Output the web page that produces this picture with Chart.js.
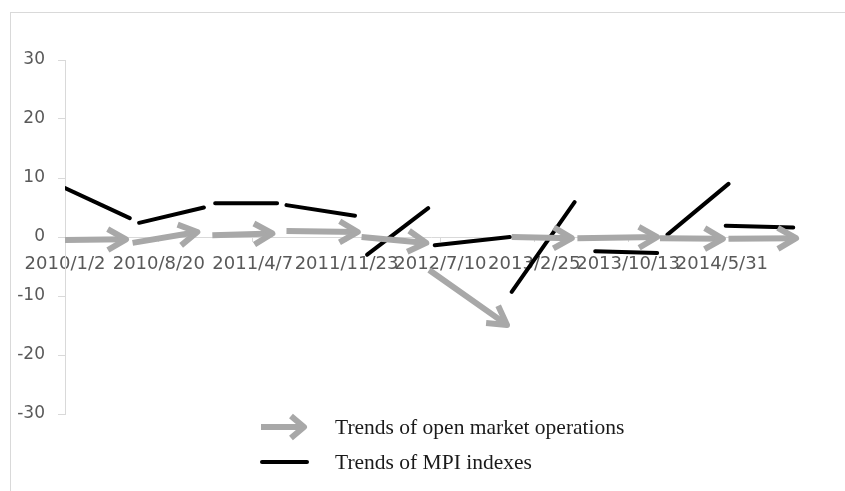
<!DOCTYPE html>
<html>
<head>
<meta charset="utf-8">
<script src="https://cdn.jsdelivr.net/npm/chart.js@4.4.1/dist/chart.umd.min.js"></script>
<style>
  html, body { margin: 0; padding: 0; background: #fff; overflow: hidden; }
  #frame { position: absolute; left: 10px; top: 12px; width: 900px; height: 600px; border: 1px solid #d9d9d9; }
  #trendChart { position: absolute; left: 0; top: 0; }
</style>
</head>
<body>
<div id="frame"></div>
<canvas id="trendChart" width="845" height="491"></canvas>
<script>
// x values are steps along the date axis, one step per label
var dateLabels = ['2010/1/2', '2010/8/20', '2011/4/7', '2011/11/23', '2012/7/10', '2013/2/25', '2013/10/13', '2014/5/31'];
var yTicks = [-30, -20, -10, 0, 10, 20, 30];

// grey arrows: [x start, y start, x end, y end]
var opsSegments = [
  [0.00, -0.5, 0.65, -0.4],
  [0.72, -1.0, 1.41, 0.85],
  [1.57, 0.3, 2.21, 0.6],
  [2.36, 1.0, 3.12, 0.85],
  [3.16, 0.0, 3.85, -1.0],
  [3.88, -5.6, 4.71, -14.9],
  [4.76, 0.0, 5.40, -0.2],
  [5.46, -0.2, 6.31, 0.0],
  [6.34, -0.2, 7.01, -0.3],
  [7.07, -0.3, 7.79, -0.2]
];

// black pieces: [x start, y start, x end, y end]
var mpiSegments = [
  [0.00, 8.3, 0.69, 3.2],
  [0.79, 2.4, 1.48, 5.0],
  [1.60, 5.7, 2.26, 5.7],
  [2.36, 5.4, 3.09, 3.6],
  [3.22, -3.0, 3.87, 4.9],
  [3.94, -1.4, 4.74, 0.0],
  [4.76, -9.3, 5.43, 5.9],
  [5.65, -2.4, 6.31, -2.7],
  [6.42, 0.4, 7.07, 9.0],
  [7.04, 1.9, 7.76, 1.6]
];

var seriesNames = ['Trends of open market operations', 'Trends of MPI indexes'];
var opsColor = '#a8a8a8';
var mpiColor = '#000000';

// turn segments into points with a gap after each piece
function toPoints(segments) {
  var points = [];
  segments.forEach(function (s) {
    points.push({ x: s[0], y: s[1] });
    points.push({ x: s[2], y: s[3] });
    points.push({ x: s[2], y: null });
  });
  return points;
}

function drawArrowHead(ctx, x0, y0, x1, y1, len, angle, width, color) {
  var a = Math.atan2(y1 - y0, x1 - x0);
  ctx.save();
  ctx.strokeStyle = color;
  ctx.lineWidth = width;
  ctx.lineJoin = 'round';
  ctx.lineCap = 'butt';
  ctx.beginPath();
  ctx.moveTo(x1 - len * Math.cos(a - angle), y1 - len * Math.sin(a - angle));
  ctx.lineTo(x1, y1);
  ctx.lineTo(x1 - len * Math.cos(a + angle), y1 - len * Math.sin(a + angle));
  ctx.stroke();
  ctx.restore();
}

// arrow heads on the end of every grey piece
var arrowPlugin = {
  id: 'arrowHeads',
  afterDatasetsDraw: function (chart) {
    var xs = chart.scales.x, ys = chart.scales.y;
    opsSegments.forEach(function (s) {
      drawArrowHead(chart.ctx,
        xs.getPixelForValue(s[0]), ys.getPixelForValue(s[1]),
        xs.getPixelForValue(s[2]), ys.getPixelForValue(s[3]),
        21, Math.PI / 6, 6, opsColor);
    });
  }
};

// legend below the plot, two rows
var legendPlugin = {
  id: 'trendLegend',
  afterDraw: function (chart) {
    var ctx = chart.ctx;
    ctx.save();
    // arrow symbol
    ctx.strokeStyle = opsColor;
    ctx.lineWidth = 6;
    ctx.beginPath();
    ctx.moveTo(261, 427);
    ctx.lineTo(304, 427);
    ctx.stroke();
    drawArrowHead(ctx, 261, 427, 304, 427, 17, Math.PI / 4.5, 6, opsColor);
    // line symbol
    ctx.strokeStyle = mpiColor;
    ctx.lineWidth = 4;
    ctx.lineCap = 'round';
    ctx.beginPath();
    ctx.moveTo(262, 462);
    ctx.lineTo(307, 462);
    ctx.stroke();

    ctx.fillStyle = '#1a1a1a';
    ctx.font = '21.5px "Liberation Serif"';
    ctx.textBaseline = 'middle';
    ctx.textAlign = 'left';
    ctx.fillText(chart.data.datasets[0].label, 335, 428);
    ctx.fillText(chart.data.datasets[1].label, 335, 463);
    ctx.restore();
  }
};

var ctx = document.getElementById('trendChart').getContext('2d');
var trendChart = new Chart(ctx, {
  type: 'line',
  data: {
    datasets: [{
      label: seriesNames[0],
      data: toPoints(opsSegments),
      borderColor: opsColor,
      borderWidth: 6,
      borderCapStyle: 'butt'
    }, {
      label: seriesNames[1],
      data: toPoints(mpiSegments),
      borderColor: mpiColor,
      borderWidth: 4,
      borderCapStyle: 'round'
    }]
  },
  options: {
    responsive: false,
    animation: false,
    spanGaps: false,
    layout: { padding: { left: 0, top: 60, right: 48, bottom: 77 } },
    elements: { point: { radius: 0 }, line: { tension: 0 } },
    plugins: {
      legend: { display: false },
      tooltip: { enabled: false }
    },
    scales: {
      x: {
        type: 'linear',
        position: { y: 0 },
        min: 0,
        max: 7.8,
        afterBuildTicks: function (scale) {
          scale.ticks = dateLabels.map(function (l, i) { return { value: i }; });
        },
        afterFit: function (scale) { scale.height = 0; },
        ticks: {
          autoSkip: false,
          maxRotation: 0,
          minRotation: 0,
          padding: 13,
          color: '#595959',
          font: { family: 'DejaVu Sans', size: 18 },
          callback: function (v) { return dateLabels[v]; }
        },
        grid: { drawOnChartArea: false, tickLength: 4, color: '#d9d9d9' },
        border: { color: '#d9d9d9' }
      },
      y: {
        min: -30,
        max: 30,
        afterBuildTicks: function (scale) {
          scale.ticks = yTicks.map(function (v) { return { value: v }; });
        },
        afterFit: function (scale) { scale.width = 65; },
        ticks: {
          padding: 13,
          color: '#595959',
          font: { family: 'DejaVu Sans', size: 17 }
        },
        grid: { drawOnChartArea: false, tickLength: 7, color: '#d9d9d9' },
        border: { color: '#d9d9d9' }
      }
    }
  },
  plugins: [arrowPlugin, legendPlugin]
});
</script>
</body>
</html>
